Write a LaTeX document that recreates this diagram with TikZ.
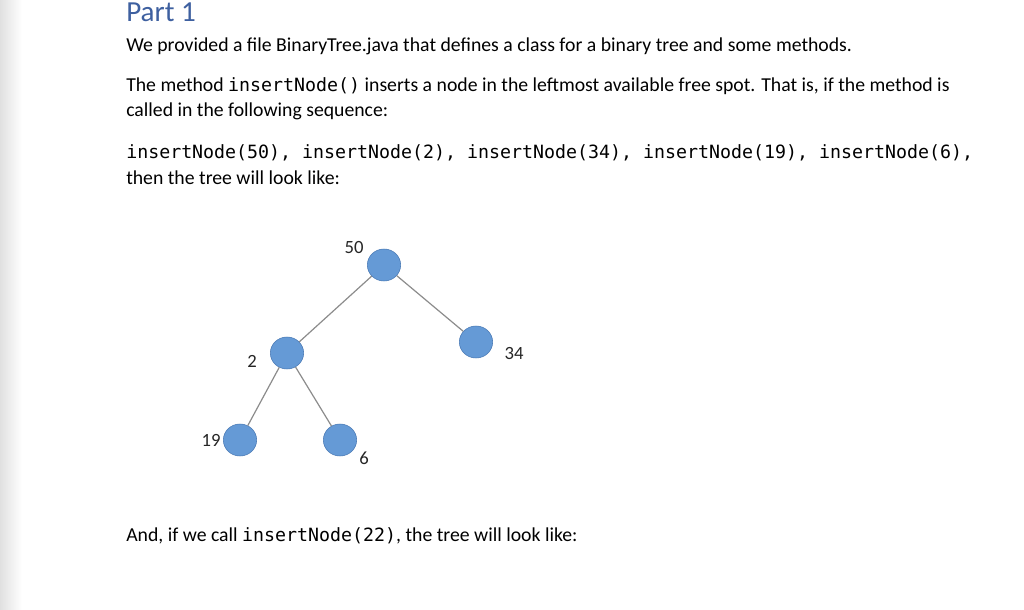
\documentclass[tikz,border=0pt]{standalone}
\usepackage{fontspec}
\setmainfont{Carlito}
\setmonofont{DejaVu Sans Mono}
\usepackage{tikz}
\usetikzlibrary{positioning}
\usetikzlibrary{shapes.geometric}
\definecolor{titleblue}{RGB}{62,96,160}
\definecolor{leafblue}{RGB}{101,154,214}
\definecolor{rimblue}{RGB}{72,120,180}
\tikzset{
  txt/.style={anchor=base west, inner sep=0pt, font=\fontsize{14.8}{17}\selectfont},
  leaf/.style={ellipse, draw=rimblue, fill=leafblue, minimum width=25pt, minimum height=24pt, inner sep=0pt},
  num/.style={inner sep=0pt, font=\fontsize{14}{16}\selectfont, text=black!85},
  edge/.style={draw=black!45, line width=0.9pt}
}
\newcommand{\mono}[1]{{\fontsize{13.7}{16}\selectfont\ttfamily #1}}

\begin{document}
\begin{tikzpicture}[x=0.75pt,y=-0.75pt]

\useasboundingbox (0,0) rectangle (1024,610);
\fill[white] (0,0) rectangle (1024,610);
\shade[left color=black!12, right color=white] (0,0) rectangle (22,610);

\node at (126,22) [anchor=base west, inner sep=0pt, font=\fontsize{21.8}{24}\selectfont, text=titleblue] (title) {Part 1};
\node at (126,52) [txt] (line1) {We provided a file BinaryTree.java that defines a class for a binary tree and some methods.};
\node at (126,91) [txt] (line2) {The method \mono{insertNode()} inserts a node in the leftmost available free spot. That is, if the method is};
\node at (126,117) [txt] (line3) {called in the following sequence:};
\node at (126,158) [txt] (line4) {\mono{insertNode(50), insertNode(2), insertNode(34), insertNode(19), insertNode(6),}};
\node at (126,184) [txt] (line5) {then the tree will look like:};
\node at (126,541) [txt] (line6) {And, if we call \mono{insertNode(22)}, the tree will look like:};

% the tree
\node at (384,265) [leaf] (n50) {};
\node at (476,342) [leaf] (n34) {};
\node at (287,353) [leaf] (n2) {};
\node at (240,440) [leaf] (n19) {};
\node at (340,440) [leaf] (n6) {};

\draw[edge] (n50) -- (n2);
\draw[edge] (n50) -- (n34);
\draw[edge] (n2) -- (n19);
\draw[edge] (n2) -- (n6);

\node at (354,248) [num] (l50) {50};
\node at (514,354) [num] (l34) {34};
\node at (252,361) [num] (l2) {2};
\node at (211,440) [num] (l19) {19};
\node at (364,458) [num] (l6) {6};

\end{tikzpicture}
\end{document}
